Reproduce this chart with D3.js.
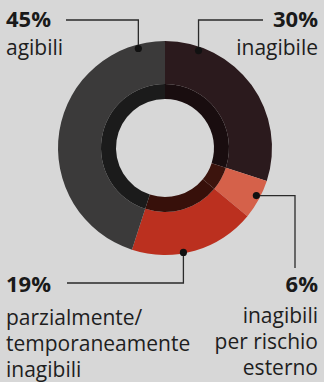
<!DOCTYPE html>
<html><head><meta charset="utf-8">
<script src="https://cdn.jsdelivr.net/npm/d3@7"></script>
<style>html,body{margin:0;padding:0;background:#d7d7d7;}svg{display:block;}</style>
</head><body>
<script>
// Data (clockwise from 12 o'clock)
const categories = ["inagibile", "inagibili per rischio esterno", "parzialmente/temporaneamente inagibili", "agibili"];
const values = [30, 6, 19, 45];
const pctLabels = ["30%", "6%", "19%", "45%"];
const descLines = [["inagibile"], ["inagibili", "per rischio", "esterno"], ["parzialmente/", "temporaneamente", "inagibili"], ["agibili"]];

const W = 324, H = 382;
const cx = 165, cy = 148, rOuter = 107, rBand = 64, rInner = 49;
const colors = ["#2b1a1d", "#d5614a", "#bb301f", "#3b3a3a"];
const bandColors = ["#190d0f", "#3c140d", "#37100a", "#1b1b1b"];

const svg = d3.select("body").append("svg").attr("width", W).attr("height", H);
svg.append("rect").attr("width", W).attr("height", H).attr("fill", "#d7d7d7");

const pie = d3.pie().sort(null).value(d => d)(values);
const g = svg.append("g").attr("transform", `translate(${cx},${cy})`);
const arcOuter = d3.arc().innerRadius(rBand).outerRadius(rOuter);
const arcBand = d3.arc().innerRadius(rInner).outerRadius(rBand);
g.selectAll("path.o").data(pie).join("path").attr("class", "o")
  .attr("d", arcOuter).attr("fill", (d, i) => colors[i]);
g.selectAll("path.b").data(pie).join("path").attr("class", "b")
  .attr("d", arcBand).attr("fill", (d, i) => bandColors[i]);

const font = "'Open Sans', 'DejaVu Sans', sans-serif";
const layout = [
  {ang: 19, rDot: 103, path: (x, y) => [[x, y], [x, 20], [263, 20]], px: 318, py: 27, anchor: "end", descY: 55},
  {ang: 117.5, rDot: 103, path: (x, y) => [[x, y], [295, y], [295, 268]], px: 318, py: 292, anchor: "end", descY: 323},
  {ang: 170, rDot: 106, path: (x, y) => [[x, y], [x, 283], [67, 283]], px: 6, py: 292, anchor: "start", descY: 325},
  {ang: -15, rDot: 103, path: (x, y) => [[x, y], [x, 20], [66, 20]], px: 6, py: 27, anchor: "start", descY: 55}
];

const line = d3.line();
layout.forEach((L, i) => {
  const a = L.ang * Math.PI / 180;
  const x = cx + L.rDot * Math.sin(a), y = cy - L.rDot * Math.cos(a);
  svg.append("path").attr("d", line(L.path(x, y))).attr("fill", "none")
    .attr("stroke", "#2a2a2a").attr("stroke-width", 1.3);
  svg.append("circle").attr("cx", x).attr("cy", y).attr("r", 3.6).attr("fill", "#111");
  svg.append("text").attr("x", L.px).attr("y", L.py).attr("text-anchor", L.anchor)
    .attr("font-family", font).attr("font-weight", 700).attr("font-size", 22)
    .attr("fill", "#1a1a1a").text(pctLabels[i]);
  descLines[i].forEach((t, j) => {
    svg.append("text").attr("x", L.px).attr("y", L.descY + j * 26).attr("text-anchor", L.anchor)
      .attr("font-family", font).attr("font-size", 21).attr("fill", "#1e1e1e").text(t);
  });
});
</script>
</body></html>
